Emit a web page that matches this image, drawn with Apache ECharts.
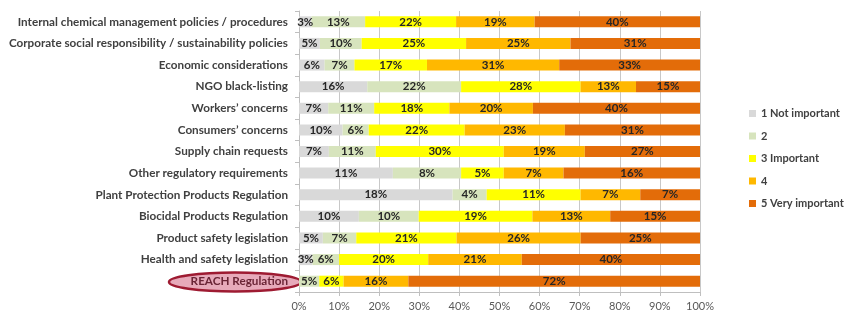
<!DOCTYPE html>
<html>
<head>
<meta charset="utf-8">
<script src="https://cdn.jsdelivr.net/npm/echarts@6/dist/echarts.min.js"></script>
<style>
  html, body { margin: 0; padding: 0; background: #fff; }
  #chart { width: 845px; height: 313px; }
</style>
</head>
<body>
<div id="chart"></div>
<script>
// categories, top to bottom
const categories = [
  'Internal chemical management policies / procedures',
  'Corporate social responsibility / sustainability policies',
  'Economic considerations',
  'NGO black-listing',
  'Workers’ concerns',
  'Consumers’ concerns',
  'Supply chain requests',
  'Other regulatory requirements',
  'Plant Protection Products Regulation',
  'Biocidal Products Regulation',
  'Product safety legislation',
  'Health and safety legislation',
  'REACH Regulation'
]

// answers in %, as labelled on the bars
const notImportant  = [3, 5, 6, 16, 7, 10, 7, 11, 18, 10, 5, 3, 0]
const two           = [13, 10, 7, 22, 11, 6, 11, 8, 4, 10, 7, 6, 5]
const important     = [22, 25, 17, 28, 18, 22, 30, 5, 11, 19, 21, 20, 6]
const four          = [19, 25, 31, 13, 20, 23, 19, 7, 7, 13, 26, 21, 16]
const veryImportant = [40, 31, 33, 15, 40, 31, 27, 16, 7, 15, 25, 40, 72]

const xTicks = [0, 10, 20, 30, 40, 50, 60, 70, 80, 90, 100]

const groups = [
  { name: '1 Not important', values: notImportant, color: '#D9D9D9' },
  { name: '2', values: two, color: '#D7E4BD' },
  { name: '3 Important', values: important, color: '#FFFF00' },
  { name: '4', values: four, color: '#FFB800' },
  { name: '5 Very important', values: veryImportant, color: '#E36C09' }
]

// 100% stacked: each row is scaled to its own total
const totals = categories.map((c, i) => groups.reduce((s, g) => s + g.values[i], 0))

const chart = echarts.init(document.getElementById('chart'))
const font = 'Lato, "Open Sans", sans-serif'

chart.setOption({
  animation: false,
  textStyle: { fontFamily: font },
  grid: { left: 299, right: 145, top: 11, bottom: 21, containLabel: false },
  legend: {
    orient: 'vertical',
    left: 744,
    top: 102,
    itemWidth: 7,
    itemHeight: 7,
    itemGap: 9.5,
    icon: 'rect',
    textStyle: { fontSize: 11, fontWeight: 'bold', color: '#404040', fontFamily: font, lineHeight: 13 },
    data: groups.map(g => g.name)
  },
  xAxis: {
    type: 'value',
    min: 0,
    max: 100,
    interval: 10,
    axisLine: { show: true, lineStyle: { color: '#BFBFBF' } },
    axisTick: { show: true, length: 4, lineStyle: { color: '#BFBFBF' } },
    splitLine: { show: true, lineStyle: { color: '#C8C8C8', width: 1 } },
    axisLabel: {
      margin: 9,
      fontSize: 11,
      color: '#595959',
      fontFamily: font,
      formatter: v => (xTicks.includes(v) ? v + '%' : '')
    }
  },
  yAxis: {
    type: 'category',
    inverse: true,
    data: categories,
    axisLine: { show: true, lineStyle: { color: '#BFBFBF' } },
    axisTick: { show: true, length: 4, lineStyle: { color: '#BFBFBF' } },
    axisLabel: {
      margin: 11,
      fontSize: 11.7,
      fontWeight: 'bold',
      color: '#404040',
      fontFamily: font,
      formatter: v => (v === 'REACH Regulation' ? '{reach|' + v + '}' : v),
      rich: {
        reach: { fontSize: 11.7, fontWeight: 'bold', color: '#6A2536', fontFamily: font }
      }
    }
  },
  graphic: [
    {
      type: 'ellipse',
      z: -1,
      shape: { cx: 235, cy: 282, rx: 66, ry: 9.5 },
      style: { fill: '#E7AABA', stroke: '#9E1B32', lineWidth: 2.5 }
    }
  ],
  series: groups.map(g => ({
    name: g.name,
    type: 'bar',
    stack: 'total',
    barWidth: 11,
    itemStyle: { color: g.color },
    label: {
      show: true,
      position: 'inside',
      fontSize: 11.5,
      fontWeight: 'bold',
      color: '#262626',
      fontFamily: font,
      formatter: p => (g.values[p.dataIndex] ? g.values[p.dataIndex] + '%' : '')
    },
    data: g.values.map((v, i) => v / totals[i] * 100)
  }))
})
</script>
</body>
</html>
